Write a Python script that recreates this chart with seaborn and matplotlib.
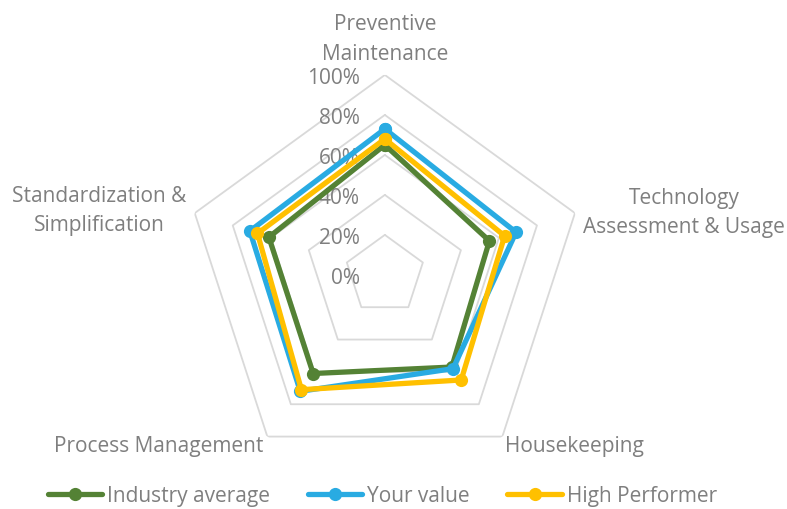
import numpy as np
import pandas as pd
import matplotlib
matplotlib.use("Agg")
import matplotlib.pyplot as plt
import seaborn as sns

categories = ["Preventive\nMaintenance", "Technology\nAssessment & Usage",
              "Housekeeping", "Process Management", "Standardization &\nSimplification"]
industry_average = [0.65, 0.55, 0.57, 0.61, 0.61]
your_value = [0.73, 0.69, 0.58, 0.72, 0.71]
high_performer = [0.68, 0.63, 0.65, 0.71, 0.67]
series_names = ["Industry average", "Your value", "High Performer"]
series_colors = ["#548235", "#29ABE2", "#FFC000"]
r_ticks = [0.0, 0.2, 0.4, 0.6, 0.8, 1.0]
r_tick_labels = ["0%", "20%", "40%", "60%", "80%", "100%"]

sns.set_theme(style="white")
plt.rcParams['font.family'] = ['Open Sans', 'DejaVu Sans']
text_color = "#7f7f7f"
fs = 15

n = len(categories)
angles = np.linspace(0, 2 * np.pi, n, endpoint=False)
angles_closed = np.append(angles, 2 * np.pi)

# tabella lunga per seaborn (poligono chiuso ripetendo il primo punto)
rows = []
for name, vals in zip(series_names, [industry_average, your_value, high_performer]):
    closed = list(vals) + [vals[0]]
    for th, v in zip(angles_closed, closed):
        rows.append({"theta": th, "value": v, "serie": name})
df = pd.DataFrame(rows)

fig = plt.figure(figsize=(7.87, 5.09), dpi=100)
ax = fig.add_axes([0.235, 0.067, 0.508, 0.786], projection="polar")
ax.set_theta_offset(np.pi / 2)
ax.set_theta_direction(-1)
ax.set_ylim(0, 1)
ax.set_xticks([])
ax.set_yticks([])
ax.spines["polar"].set_visible(False)
ax.grid(False)

# griglia pentagonale
for lev in r_ticks[1:]:
    ax.plot(angles_closed, [lev] * (n + 1), color="#d9d9d9", lw=1.3, zorder=1)

sns.lineplot(data=df, x="theta", y="value", hue="serie", hue_order=series_names,
             palette=series_colors, sort=False, estimator=None, marker="o",
             markersize=9.5, markeredgewidth=0, linewidth=3.8, ax=ax, legend=False,
             zorder=3)
ax.set_xlabel("")
ax.set_ylabel("")

# etichette dei valori percentuali
for lev, lab in zip(r_ticks, r_tick_labels):
    ax.annotate(lab, xy=(0, lev), xytext=(-18, -2.5), textcoords="offset points",
                ha="right", va="center", fontsize=fs, color=text_color, zorder=2)

# etichette delle categorie
label_pos = [
    ((0, 7.5), "center", "bottom"),
    ((6, 0), "left", "center"),
    ((2, -7), "left", "center"),
    ((-2.5, -7), "right", "center"),
    ((-6, 1.5), "right", "center"),
]
for th, lab, (off, ha, va) in zip(angles, categories, label_pos):
    ax.annotate(lab, xy=(th, 1.0), xytext=off, textcoords="offset points",
                ha=ha, va=va, multialignment="center", fontsize=fs,
                color=text_color, linespacing=1.55, annotation_clip=False)

# legenda
handles = [plt.Line2D([], [], color=c, lw=3.8, marker="o", markersize=9.5,
                      markeredgewidth=0) for c in series_colors]
fig.legend(handles, series_names, loc="center", bbox_to_anchor=(0.486, 0.025),
           ncol=3, frameon=False, fontsize=fs, labelcolor=text_color,
           handlelength=2.6, handletextpad=0.25, columnspacing=1.8)

fig.savefig("out.png", dpi=100, facecolor="white")
